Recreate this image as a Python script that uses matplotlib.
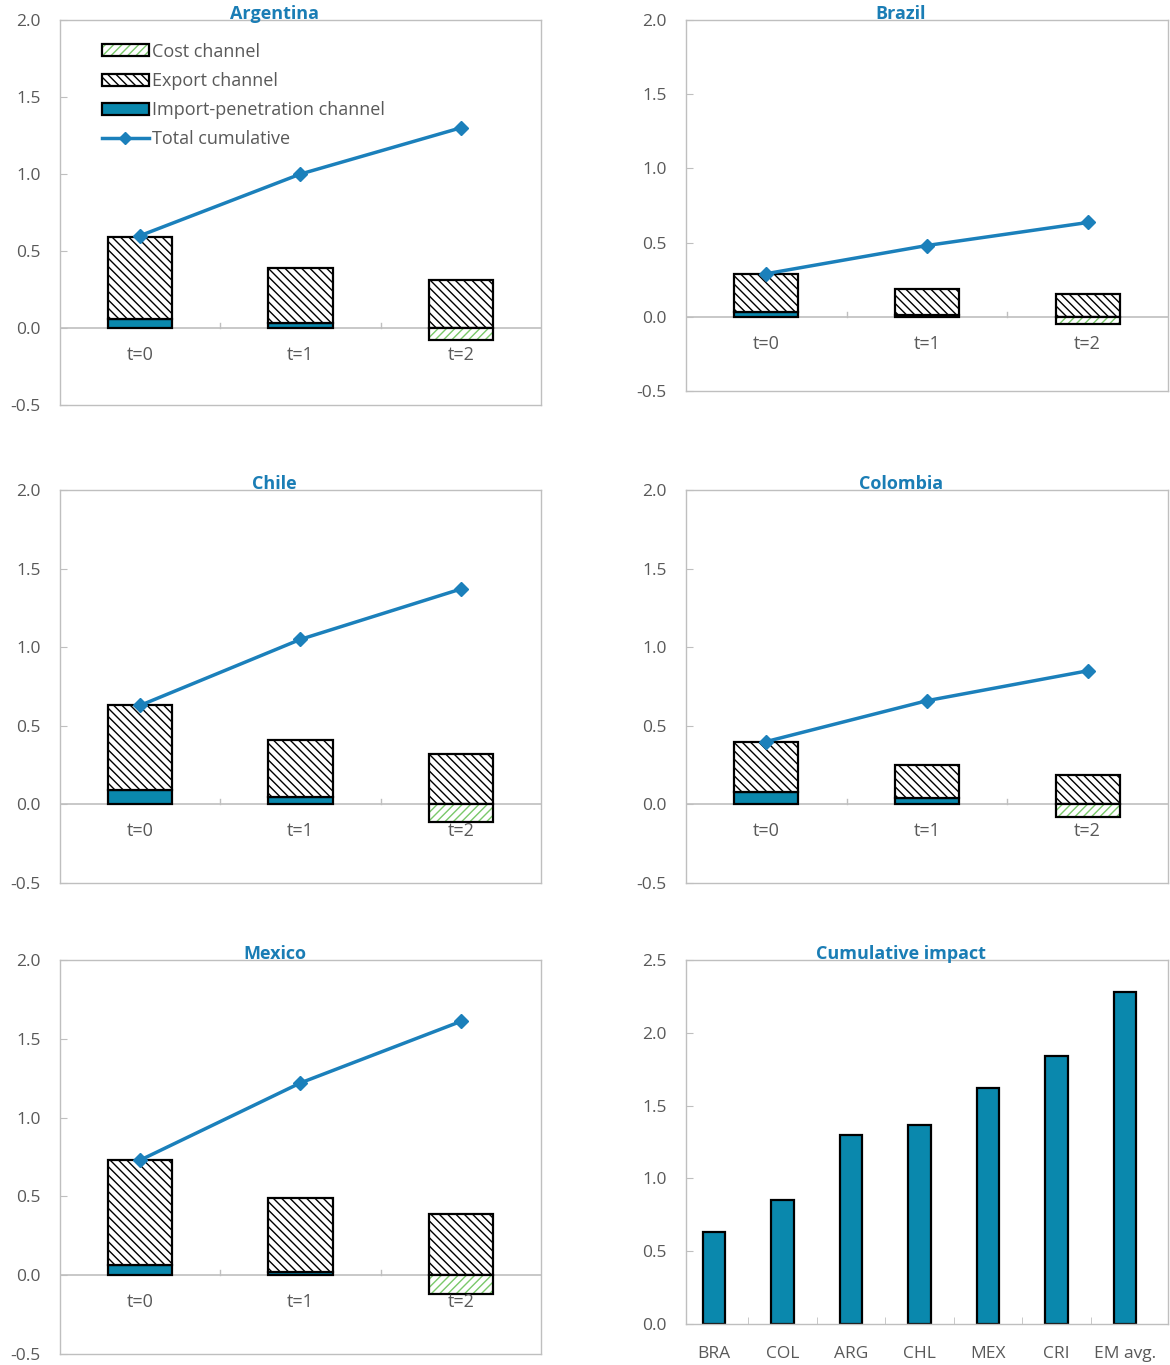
import numpy as np
import matplotlib
matplotlib.use('Agg')
import matplotlib.pyplot as plt
from matplotlib.patches import Patch
from matplotlib.lines import Line2D
from matplotlib.legend_handler import HandlerTuple

plt.rcParams['font.family'] = ['Open Sans', 'DejaVu Sans']
plt.rcParams['hatch.linewidth'] = 1.0

## data
periods = ['t=0', 't=1', 't=2']
countries = ['Argentina', 'Brazil', 'Chile', 'Colombia', 'Mexico']

import_ch = {'Argentina': [0.06, 0.03, 0.0],
             'Brazil':    [0.03, 0.01, 0.0],
             'Chile':     [0.09, 0.05, 0.0],
             'Colombia':  [0.08, 0.04, 0.0],
             'Mexico':    [0.065, 0.02, 0.0]}
export_ch = {'Argentina': [0.53, 0.36, 0.31],
             'Brazil':    [0.26, 0.18, 0.15],
             'Chile':     [0.54, 0.36, 0.32],
             'Colombia':  [0.32, 0.21, 0.19],
             'Mexico':    [0.665, 0.47, 0.39]}
cost_ch = {'Argentina': [0.0, 0.0, -0.08],
           'Brazil':    [0.0, 0.0, -0.05],
           'Chile':     [0.0, 0.0, -0.11],
           'Colombia':  [0.0, 0.0, -0.08],
           'Mexico':    [0.0, 0.0, -0.12]}
total_cum = {'Argentina': [0.60, 1.00, 1.30],
             'Brazil':    [0.29, 0.48, 0.635],
             'Chile':     [0.63, 1.05, 1.37],
             'Colombia':  [0.40, 0.66, 0.85],
             'Mexico':    [0.73, 1.22, 1.61]}

cum_labels = ['BRA', 'COL', 'ARG', 'CHL', 'MEX', 'CRI', 'EM avg.']
cum_values = [0.63, 0.85, 1.30, 1.37, 1.62, 1.84, 2.28]

## colours
blue_line = '#1b80bb'
blue_bar = '#0a88ad'
green = '#7ac86a'
grey = '#bfbfbf'
text_grey = '#595959'
title_blue = '#1a7db5'

exp_hatch = '\\\\\\\\'
cost_hatch = '////'

fig = plt.figure(figsize=(11.7, 13.65), dpi=100)

# axes rectangles in figure fractions
rects = {'Argentina': [0.0513, 0.7033, 0.411, 0.282],
         'Brazil':    [0.5863, 0.7136, 0.412, 0.2718],
         'Chile':     [0.0513, 0.3531, 0.411, 0.2879],
         'Colombia':  [0.5863, 0.3531, 0.412, 0.2879],
         'Mexico':    [0.0513, 0.0081, 0.411, 0.2886]}
cum_rect = [0.5863, 0.030, 0.412, 0.2667]


def style_axes(ax):
    for s in ax.spines.values():
        s.set_color(grey)
        s.set_linewidth(1.0)
    ax.tick_params(axis='y', direction='in', length=5, color=grey,
                   labelcolor=text_grey, labelsize=12.5, pad=14)


x = np.arange(len(periods))
w = 0.4
for c in countries:
    ax = fig.add_axes(rects[c])
    style_axes(ax)
    ax.set_xlim(-0.5, 2.5)
    ax.set_ylim(-0.5, 2.0)
    ax.set_yticks(np.arange(-0.5, 2.01, 0.5))
    ax.yaxis.set_major_formatter(matplotlib.ticker.FormatStrFormatter('%.1f'))
    ax.set_xticks([])
    ax.axhline(0, color=grey, lw=1.2, zorder=1)
    # small boundary ticks on the zero line
    for b in [0.5, 1.5]:
        ax.plot([b, b], [0, 0.035], color=grey, lw=1, zorder=1)

    imp = np.array(import_ch[c])
    exp = np.array(export_ch[c])
    cost = np.array(cost_ch[c])

    ax.bar(x, imp, w, color=blue_bar, edgecolor='black', lw=1.6, zorder=2)
    ax.bar(x, exp, w, bottom=imp, color='white', edgecolor='black',
           hatch=exp_hatch, lw=1.6, zorder=2)
    # cost channel: green hatch, black outline
    ax.bar(x, cost, w, color='white', edgecolor=green, hatch=cost_hatch, lw=0,
           zorder=2)
    ax.bar(x, cost, w, fill=False, edgecolor=np.where(cost != 0, 'black', 'none'),
           lw=1.6, zorder=2)

    ax.plot(x, total_cum[c], color=blue_line, lw=2.5, marker='D', ms=7,
            zorder=3)

    for i, p in enumerate(periods):
        ax.annotate(p, (i, 0), xytext=(0, -13), textcoords='offset points',
                    ha='center', va='top', fontsize=13, color=text_grey)

    ax.text(0.446, 1.002, c, transform=ax.transAxes, ha='center', va='baseline',
            fontsize=13, fontweight='bold', color=title_blue)

    if c == 'Argentina':
        h_cost = (Patch(facecolor='white', edgecolor=green, hatch=cost_hatch, lw=0),
                  Patch(fill=False, edgecolor='black', lw=1.6))
        h_exp = Patch(facecolor='white', edgecolor='black', hatch=exp_hatch, lw=1.6)
        h_imp = Patch(facecolor=blue_bar, edgecolor='black', lw=1.6)
        h_tot = Line2D([], [], color=blue_line, lw=2.5, marker='D', ms=6)
        leg = ax.legend([h_cost, h_exp, h_imp, h_tot],
                        ['Cost channel', 'Export channel',
                         'Import-penetration channel', 'Total cumulative'],
                        handler_map={tuple: HandlerTuple(ndivide=1)},
                        loc='upper left', bbox_to_anchor=(0.072, 0.96),
                        frameon=False, fontsize=13, handlelength=2.6,
                        handleheight=0.65, handletextpad=0.2, labelspacing=0.62,
                        borderaxespad=0)
        for t in leg.get_texts():
            t.set_color(text_grey)

## cumulative impact panel
ax = fig.add_axes(cum_rect)
style_axes(ax)
xc = np.arange(len(cum_labels))
ax.bar(xc, cum_values, 0.33, color=blue_bar, edgecolor='black', lw=1.6, zorder=2)
ax.set_xlim(-0.41, 6.63)
ax.set_ylim(0, 2.5)
ax.set_yticks(np.arange(0, 2.51, 0.5))
ax.yaxis.set_major_formatter(matplotlib.ticker.FormatStrFormatter('%.1f'))
ax.set_xticks(xc)
ax.set_xticklabels(cum_labels)
ax.tick_params(axis='x', length=0, labelsize=12.5, labelcolor=text_grey, pad=16)
ax.set_xticks(np.arange(0.5, len(cum_labels) - 1, 1), minor=True)
ax.tick_params(axis='x', which='minor', direction='in', length=5, color=grey)
ax.text(0.446, 1.002, 'Cumulative impact', transform=ax.transAxes, ha='center',
        va='baseline', fontsize=13, fontweight='bold', color=title_blue)

plt.savefig('out.png', dpi=100)
